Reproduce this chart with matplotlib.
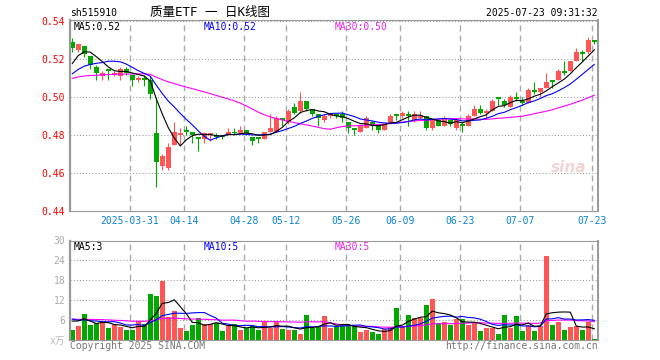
import numpy as np
import pandas as pd
import matplotlib
matplotlib.use("Agg")
import matplotlib.pyplot as plt

plt.rcParams['font.family'] = ['DejaVu Sans Mono', 'Noto Sans CJK SC']

# trading days 2025-03-17 .. 2025-07-23 (holidays skipped)
dates = pd.bdate_range('2025-03-17', '2025-07-23', freq='C',
                       holidays=['2025-04-04', '2025-05-01', '2025-05-02', '2025-05-05', '2025-06-02'])

opens = [0.529, 0.525, 0.527, 0.522, 0.516, 0.511, 0.515, 0.512, 0.511, 0.515,
         0.512, 0.509, 0.510, 0.509, 0.481, 0.464, 0.463, 0.475, 0.480, 0.483,
         0.482, 0.479, 0.478, 0.480, 0.480, 0.480, 0.480, 0.482, 0.481, 0.483,
         0.479, 0.479, 0.478, 0.482, 0.482, 0.489, 0.487, 0.495, 0.493, 0.498,
         0.494, 0.491, 0.488, 0.490, 0.491, 0.491, 0.487, 0.484, 0.482, 0.484,
         0.487, 0.486, 0.483, 0.487, 0.491, 0.490, 0.491, 0.488, 0.489, 0.490,
         0.484, 0.488, 0.485, 0.488, 0.484, 0.486, 0.485, 0.490, 0.494, 0.492,
         0.493, 0.500, 0.498, 0.495, 0.500, 0.498, 0.497, 0.504, 0.503, 0.505,
         0.509, 0.509, 0.514, 0.514, 0.519, 0.524, 0.524, 0.530]
highs = [0.531, 0.528, 0.527, 0.522, 0.517, 0.514, 0.515, 0.514, 0.516, 0.516,
         0.512, 0.511, 0.512, 0.511, 0.500, 0.470, 0.476, 0.487, 0.484, 0.485,
         0.482, 0.479, 0.482, 0.481, 0.481, 0.480, 0.484, 0.484, 0.485, 0.483,
         0.479, 0.479, 0.482, 0.491, 0.490, 0.489, 0.494, 0.497, 0.503, 0.498,
         0.494, 0.491, 0.491, 0.491, 0.492, 0.493, 0.487, 0.484, 0.486, 0.490,
         0.488, 0.486, 0.486, 0.491, 0.491, 0.493, 0.493, 0.493, 0.493, 0.490,
         0.488, 0.488, 0.490, 0.488, 0.489, 0.487, 0.491, 0.496, 0.496, 0.494,
         0.499, 0.500, 0.499, 0.501, 0.503, 0.500, 0.505, 0.508, 0.505, 0.513,
         0.509, 0.515, 0.519, 0.519, 0.526, 0.525, 0.532, 0.530]
lows = [0.524, 0.524, 0.521, 0.515, 0.509, 0.509, 0.509, 0.511, 0.509, 0.512,
        0.506, 0.508, 0.506, 0.499, 0.453, 0.462, 0.462, 0.475, 0.475, 0.480,
        0.476, 0.472, 0.476, 0.477, 0.478, 0.478, 0.480, 0.480, 0.481, 0.480,
        0.475, 0.476, 0.478, 0.482, 0.482, 0.485, 0.486, 0.491, 0.492, 0.493,
        0.490, 0.485, 0.487, 0.489, 0.489, 0.487, 0.481, 0.480, 0.482, 0.484,
        0.483, 0.481, 0.483, 0.486, 0.488, 0.489, 0.485, 0.487, 0.488, 0.483,
        0.483, 0.485, 0.485, 0.485, 0.483, 0.482, 0.485, 0.490, 0.491, 0.489,
        0.493, 0.496, 0.495, 0.495, 0.498, 0.496, 0.497, 0.502, 0.500, 0.505,
        0.505, 0.509, 0.512, 0.514, 0.519, 0.519, 0.523, 0.528]
closes = [0.526, 0.528, 0.523, 0.517, 0.513, 0.513, 0.514, 0.513, 0.515, 0.513,
          0.509, 0.510, 0.509, 0.502, 0.466, 0.469, 0.474, 0.482, 0.481, 0.482,
          0.480, 0.478, 0.481, 0.481, 0.479, 0.479, 0.482, 0.481, 0.483, 0.481,
          0.477, 0.478, 0.482, 0.484, 0.489, 0.488, 0.493, 0.492, 0.498, 0.494,
          0.491, 0.489, 0.490, 0.491, 0.490, 0.489, 0.484, 0.483, 0.485, 0.489,
          0.485, 0.483, 0.486, 0.490, 0.490, 0.492, 0.490, 0.491, 0.490, 0.484,
          0.488, 0.485, 0.489, 0.486, 0.488, 0.485, 0.490, 0.494, 0.492, 0.493,
          0.498, 0.499, 0.496, 0.500, 0.499, 0.497, 0.504, 0.503, 0.505, 0.508,
          0.508, 0.514, 0.513, 0.519, 0.524, 0.523, 0.530, 0.529]
# volume, 万
volumes = [3.0, 4.2, 7.8, 4.5, 5.2, 5.0, 3.7, 4.9, 3.9, 3.0,
           3.0, 5.7, 4.7, 13.8, 13.2, 17.8, 7.0, 8.8, 3.5, 2.6,
           4.6, 6.6, 4.9, 4.9, 5.1, 2.6, 4.2, 4.9, 2.9, 3.6,
           4.1, 2.9, 5.5, 3.6, 5.6, 3.2, 2.9, 3.1, 1.7, 7.5,
           3.7, 4.0, 7.2, 3.5, 3.8, 4.8, 4.2, 4.2, 2.4, 3.0,
           2.4, 1.8, 3.2, 3.8, 9.6, 4.0, 7.5, 6.6, 6.6, 10.5,
           12.3, 5.0, 5.4, 4.5, 6.3, 6.3, 4.5, 5.2, 2.7, 3.6,
           3.6, 1.8, 7.5, 3.6, 7.2, 2.7, 4.5, 2.7, 4.2, 25.2,
           4.5, 5.4, 3.0, 3.9, 4.2, 3.0, 5.5, 0.3]
# earlier sessions (before the window), estimated from where the MA lines start
prior_closes = [0.506, 0.508, 0.510, 0.509, 0.507, 0.509, 0.511, 0.512, 0.510, 0.508,
                0.507, 0.509, 0.510, 0.511, 0.509, 0.508, 0.510, 0.509, 0.508, 0.505,
                0.505, 0.506, 0.508, 0.507, 0.509, 0.507, 0.513, 0.518, 0.525]
prior_volumes = [6.5, 5.8, 7.2, 6.0, 5.5, 6.8, 7.5, 5.9, 6.2, 6.6,
                 5.4, 6.0, 7.0, 6.3, 5.8, 6.1, 6.9, 6.4, 5.7, 6.3,
                 7.5, 6.8, 7.2, 6.0, 7.0, 4.0, 4.5, 8.0, 9.0]
label_dates = ['2025-03-31', '2025-04-14', '2025-04-28', '2025-05-12', '2025-05-26',
               '2025-06-09', '2025-06-23', '2025-07-07', '2025-07-23']

RED = '#ff5555'
GREEN = '#00a800'
W, H = 660, 360

o, h, l, c = map(np.array, (opens, highs, lows, closes))
v = np.array(volumes)
n = len(c)
x = np.arange(n)
col = np.where(c >= o, RED, GREEN)


def ma(a, k):
    return np.convolve(a, np.ones(k) / k, mode='valid')[-n:]


allc = np.concatenate([prior_closes, c])
allv = np.concatenate([prior_volumes, v])


def rect(left, top, right, bottom):
    return [left / W, 1 - bottom / H, (right - left) / W, (bottom - top) / H]


def ftext(px, py, s, **kw):
    fig.text(px / W, 1 - py / H, s, **kw)


fig = plt.figure(figsize=(6.6, 3.6), dpi=100)
ax = fig.add_axes(rect(70, 20, 598, 211.3))
axv = fig.add_axes(rect(70, 240.5, 598, 340))

idx = [list(dates.strftime('%Y-%m-%d')).index(d) for d in label_dates]
tick_pos = np.array(idx) - 0.4
tick_lab = [label_dates[0]] + [d[5:] for d in label_dates[1:]]

for a in (ax, axv):
    a.set_xlim(-0.383, 87.617)
    a.set_xticks(tick_pos)
    a.grid(axis='x', color='#aaaaaa', lw=1.0, ls=(0, (4.3, 2.9)))
    a.grid(axis='y', color='#999999', lw=0.75, ls=(0, (1, 2)))
    a.set_axisbelow(True)
    for s in a.spines.values():
        s.set_color('#999999')
        s.set_linewidth(0.8)
    a.spines['left'].set_linewidth(1.6)
    a.spines['right'].set_linewidth(1.4)

# candles
ax.vlines(x, l, h, colors=col, lw=0.8)
ax.bar(x, np.maximum(np.abs(c - o), 0.0004), bottom=np.minimum(o, c), width=0.8, color=col, lw=0)
ax.plot(x, ma(allc, 30), color='#ff00ff', lw=0.8)
ax.plot(x, ma(allc, 10), color='#0000ff', lw=0.8)
ax.plot(x, ma(allc, 5), color='black', lw=0.8)
ax.set_ylim(0.44, 0.5407)
ax.set_yticks([0.44, 0.46, 0.48, 0.50, 0.52, 0.54])
ax.set_yticklabels(['%.2f' % t for t in ax.get_yticks()])
ax.tick_params(axis='y', length=0, pad=3.5, labelsize=7, labelcolor='red')
ax.set_xticklabels(tick_lab)
ax.tick_params(axis='x', length=0, pad=3.5, labelsize=7, labelcolor='#0a84d6')

# volume
axv.bar(x, v, width=0.85, color=col, lw=0)
axv.plot(x, ma(allv, 30), color='#ff00ff', lw=0.8)
axv.plot(x, ma(allv, 10), color='#0000ff', lw=0.8)
axv.plot(x, ma(allv, 5), color='black', lw=0.8)
axv.set_ylim(0, 30)
axv.set_yticks([6, 12, 18, 24, 30])
axv.tick_params(axis='y', length=0, pad=3.5, labelsize=7, labelcolor='#aaaaaa')
axv.tick_params(axis='x', length=0, labelbottom=False)

# texts
ftext(70, 13, 'sh515910', fontsize=7, ha='left', va='center')
ftext(210, 12.5, '质量ETF 一 日K线图', fontsize=9, ha='center', va='center')
ftext(598, 13, '2025-07-23 09:31:32', fontsize=7, ha='right', va='center')
ftext(74, 26.5, 'MA5:0.52', fontsize=7, ha='left', va='center', color='black')
ftext(204, 26.5, 'MA10:0.52', fontsize=7, ha='left', va='center', color='#0000ff')
ftext(335, 26.5, 'MA30:0.50', fontsize=7, ha='left', va='center', color='#ee22ee')
ftext(74, 246.5, 'MA5:3', fontsize=7, ha='left', va='center', color='black')
ftext(204, 246.5, 'MA10:5', fontsize=7, ha='left', va='center', color='#0000ff')
ftext(335, 246.5, 'MA30:5', fontsize=7, ha='left', va='center', color='#ee22ee')
ftext(65, 341, 'x万', fontsize=7, ha='right', va='center', color='#bbbbbb')
ftext(70, 346, 'Copyright 2025 SINA.COM', fontsize=7, ha='left', va='center', color='#777777')
ftext(598, 346, 'http://finance.sina.com.cn', fontsize=7, ha='right', va='center', color='#777777')
ftext(569, 168, 'sina', fontsize=11, ha='center', va='center', color='#f2d4d4',
      style='italic', weight='bold', family='DejaVu Sans')

fig.savefig('out.png', dpi=100)
